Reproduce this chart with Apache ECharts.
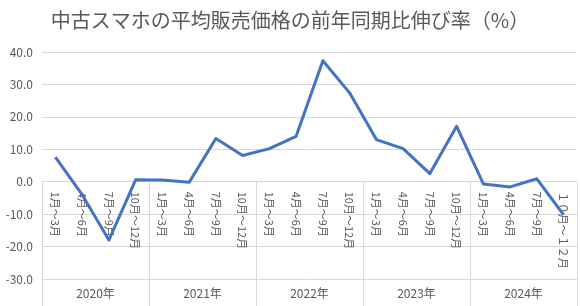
<!DOCTYPE html>
<html>
<head>
<meta charset="utf-8">
<script src="https://cdn.jsdelivr.net/npm/echarts@6/dist/echarts.min.js"></script>
<style>
html,body{margin:0;padding:0;background:#fff;}
#c{width:580px;height:306px;}
</style>
</head>
<body>
<div id="c"></div>
<script>
const titleText = '中古スマホの平均販売価格の前年同期比伸び率（%）';
const years = ['2020年', '2021年', '2022年', '2023年', '2024年'];
const quarters = [
  '1月～3月','4月～6月','7月～9月','10月～12月',
  '1月～3月','4月～6月','7月～9月','10月～12月',
  '1月～3月','4月～6月','7月～9月','10月～12月',
  '1月～3月','4月～6月','7月～9月','10月～12月',
  '1月～3月','4月～6月','7月～9月','１０月～１２月'
];
const growth = [
  7.6, -4.0, -18.0, 0.6,
  0.5, -0.2, 13.3, 8.1,
  10.2, 14.0, 37.3, 27.4,
  13.0, 10.2, 2.5, 17.1,
  -0.7, -1.6, 0.9, -10.2
];
const yMin = -30, yMax = 40, yStep = 10;

const FONT = '"Noto Sans CJK JP", "Noto Sans", sans-serif';
const GRAY = '#595959';
const GRID = '#d9d9d9';

const gridTop = 52, gridBottom = 27, H = 306;
const plotH = H - gridTop - gridBottom;
const zeroOffset = plotH * (0 - yMin) / (yMax - yMin);

const chart = echarts.init(document.getElementById('c'), null, {renderer: 'canvas'});
chart.setOption({
  animation: false,
  textStyle: {fontFamily: FONT},
  title: {
    text: titleText,
    left: 'center',
    top: 5,
    textStyle: {fontFamily: FONT, fontSize: 20, fontWeight: 'normal', color: GRAY}
  },
  grid: {left: 42, right: 3, top: gridTop, bottom: gridBottom, containLabel: false, outerBoundsMode: 'none'},
  xAxis: [
    {
      type: 'category',
      data: quarters,
      boundaryGap: true,
      position: 'bottom',
      offset: -zeroOffset,
      axisLine: {show: true, onZero: false, lineStyle: {color: GRID, width: 1}},
      axisTick: {show: true, interval: (idx) => idx % 4 === 0, length: zeroOffset, lineStyle: {color: GRID, width: 1}},
      axisLabel: {
        interval: 0, rotate: -90, margin: 10,
        fontSize: 11, color: GRAY, fontFamily: FONT,
        hideOverlap: false
      },
      splitLine: {show: false}
    },
    {
      type: 'category',
      data: years,
      boundaryGap: true,
      position: 'bottom',
      axisLine: {show: false, onZero: false},
      axisTick: {show: true, interval: 0, length: 27, lineStyle: {color: GRID, width: 1}},
      axisLabel: {interval: 0, margin: 8, fontSize: 12, color: GRAY, fontFamily: FONT},
      splitLine: {show: false}
    }
  ],
  yAxis: {
    type: 'value',
    min: yMin, max: yMax, interval: yStep,
    axisLine: {show: false},
    axisTick: {show: false},
    axisLabel: {
      margin: 9, fontSize: 12, color: GRAY, fontFamily: FONT,
      formatter: v => v.toFixed(1)
    },
    splitLine: {show: true, lineStyle: {color: GRID, width: 1}}
  },
  series: [{
    type: 'line',
    xAxisIndex: 0,
    data: growth,
    showSymbol: false,
    symbol: 'none',
    lineStyle: {color: '#4472C4', width: 3, join: 'round'},
    itemStyle: {color: '#4472C4'}
  }]
});
</script>
</body>
</html>
